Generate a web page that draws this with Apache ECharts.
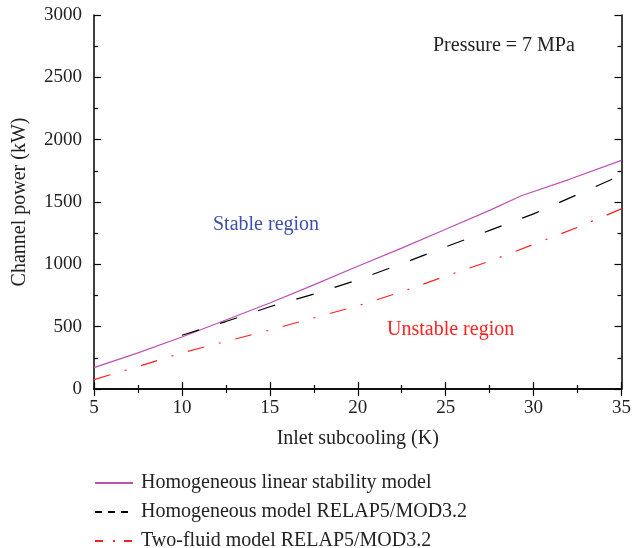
<!DOCTYPE html>
<html><head><meta charset="utf-8">
<script src="https://cdn.jsdelivr.net/npm/echarts@6/dist/echarts.min.js"></script>
<style>html,body{margin:0;padding:0;background:#fff}#c{width:634px;height:548px}</style>
</head><body><div id="c"></div>
<script>
const xLinear = [5, 7.5, 10, 12.5, 15, 17.5, 20, 22.5, 25, 27.5, 29.3, 32, 35];
const yLinear = [172, 290, 417, 553, 690, 835, 985, 1130, 1282, 1433, 1550, 1680, 1834];
const xHomo = [10, 12.5, 15, 17.5, 20, 22.5, 25, 27.5, 30, 32.5, 35];
const yHomo = [431, 541, 660, 761, 875, 1005, 1140, 1272, 1405, 1560, 1715];
const xTwo = [5, 7.5, 10, 12.5, 15, 17.5, 20, 22.5, 25, 27.5, 30, 32.5, 35];
const yTwo = [75, 180, 290, 382, 473, 570, 667, 780, 905, 1025, 1160, 1297, 1445];
const names = ['Homogeneous linear stability model', 'Homogeneous model RELAP5/MOD3.2', 'Two-fluid model RELAP5/MOD3.2'];
const xLabel = 'Inlet subcooling (K)';
const yLabel = 'Channel power (kW)';

const F = 'Liberation Serif';
const chart = echarts.init(document.getElementById('c'), null, {renderer: 'canvas'});
const axisCommon = {
  axisLine: {show: true, lineStyle: {color: '#000', width: 1.5}},
  axisTick: {show: true, inside: true, length: 7, lineStyle: {color: '#000', width: 1.2}},
  minorTick: {show: true, splitNumber: 2, length: 4, lineStyle: {color: '#000', width: 1.2}},
  splitLine: {show: false}
};
const zip = (xs, ys) => xs.map((x, i) => [x, ys[i]]);
const legendTypes = ['solid', [7, 6], [8, 10, 2, 9]];
const legends = names.map((n, i) => ({
  orient: 'vertical', left: 94, top: 473 + i * 29, padding: 0, itemWidth: 38, itemHeight: 14,
  itemStyle: {opacity: 0},
  textStyle: {fontFamily: F, fontSize: 20, lineHeight: 14, color: '#222', padding: [0, 0, 0, 3]},
  data: [{name: n, lineStyle: {type: legendTypes[i]}}]
}));
chart.setOption({
  animation: false,
  textStyle: {fontFamily: F},
  grid: {left: 94, right: 11, top: 15, bottom: 159, containLabel: false},
  xAxis: [
    Object.assign({type: 'value', min: 5, max: 35, interval: 5, position: 'bottom',
      name: xLabel, nameLocation: 'middle', nameGap: 40,
      nameTextStyle: {fontFamily: F, fontSize: 20, color: '#222'},
      axisLabel: {fontFamily: F, fontSize: 19, color: '#222', margin: 10}}, axisCommon),
    Object.assign({type: 'value', min: 5, max: 35, interval: 5, position: 'top',
      axisLabel: {show: false}}, axisCommon)
  ],
  yAxis: [
    Object.assign({type: 'value', min: 0, max: 3000, interval: 500, position: 'left',
      name: yLabel, nameLocation: 'middle', nameGap: 64,
      nameTextStyle: {fontFamily: F, fontSize: 20, color: '#222'},
      axisLabel: {fontFamily: F, fontSize: 19, color: '#222', margin: 12, formatter: v => String(v)}}, axisCommon),
    Object.assign({type: 'value', min: 0, max: 3000, interval: 500, position: 'right',
      axisLabel: {show: false}}, axisCommon)
  ],
  legend: legends,
  series: [
    {name: names[0], type: 'line', data: zip(xLinear, yLinear), symbol: 'none',
      lineStyle: {color: '#bf4fb5', width: 1.2}, itemStyle: {color: '#bf4fb5'}},
    {name: names[1], type: 'line', data: zip(xHomo, yHomo), symbol: 'none',
      lineStyle: {color: '#000', width: 1.2, type: [18, 22]}, itemStyle: {color: '#000'}},
    {name: names[2], type: 'line', data: zip(xTwo, yTwo), symbol: 'none',
      lineStyle: {color: '#ff2020', width: 1.2, type: [17, 15, 2, 15]}, itemStyle: {color: '#ff2020'}}
  ],
  graphic: [
    {type: 'text', x: 433, y: 46, style: {text: 'Pressure = 7 MPa', font: '20px "Liberation Serif"', fill: '#222', textVerticalAlign: 'middle'}},
    {type: 'text', x: 213, y: 225, style: {text: 'Stable region', font: '20px "Liberation Serif"', fill: '#3d4fa8', textVerticalAlign: 'middle'}},
    {type: 'text', x: 387, y: 330, style: {text: 'Unstable region', font: '20px "Liberation Serif"', fill: '#ff2020', textVerticalAlign: 'middle'}}
  ]
});
</script></body></html>
